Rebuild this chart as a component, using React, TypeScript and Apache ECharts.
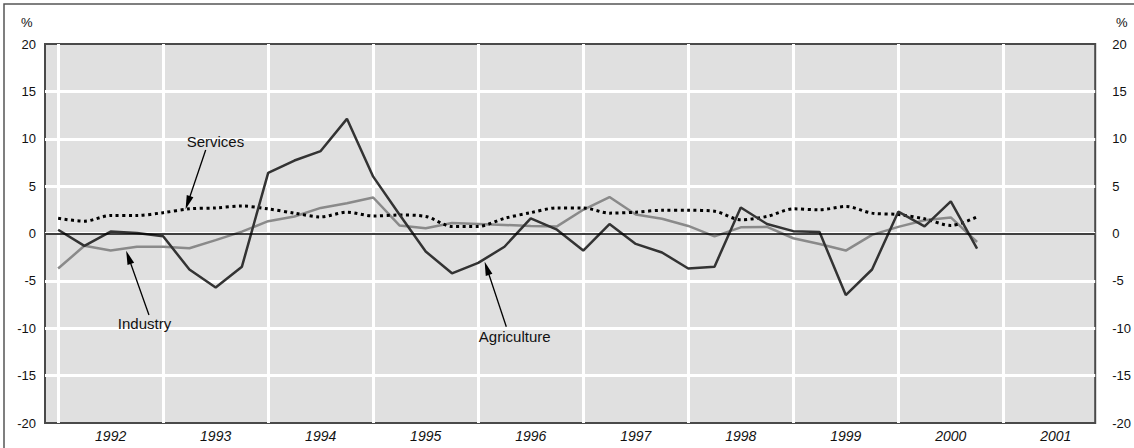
import React, { useEffect, useRef } from 'react';
import * as echarts from 'echarts';

const years = ['1992', '1993', '1994', '1995', '1996', '1997', '1998', '1999', '2000', '2001'];

const agriculture = [
  0.4, -1.3, 0.2, 0.05, -0.3, -3.8, -5.7, -3.5, 6.4, 7.7, 8.7, 12.1,
  6.0, 2.0, -1.9, -4.2, -3.1, -1.4, 1.6, 0.4, -1.8, 1.0, -1.1, -2.0,
  -3.7, -3.5, 2.75, 1.0, 0.25, 0.15, -6.5, -3.8, 2.3, 0.75, 3.4, -1.6,
];

const industry = [
  -3.7, -1.3, -1.8, -1.4, -1.4, -1.55, -0.7, 0.2, 1.3, 1.8, 2.7, 3.2,
  3.8, 0.85, 0.55, 1.1, 1.0, 0.9, 0.8, 0.75, 2.5, 3.85, 2.0, 1.55,
  0.8, -0.3, 0.65, 0.7, -0.5, -1.1, -1.8, -0.15, 0.7, 1.4, 1.7, -0.9,
];

const services = [
  1.6, 1.3, 1.9, 1.9, 2.2, 2.6, 2.7, 2.9, 2.6, 2.15, 1.75, 2.25,
  1.85, 1.95, 1.8, 0.75, 0.75, 1.6, 2.2, 2.7, 2.7, 2.15, 2.25, 2.45,
  2.45, 2.35, 1.45, 1.8, 2.6, 2.5, 2.85, 2.15, 2.0, 1.55, 0.85, 1.75,
];

// annotation labels and arrows (data coordinates: quarter index, %)
const labelNames = ['Services', 'Industry', 'Agriculture'];
const labelCoords = [[5.99, 9.66], [3.29, -9.55], [17.39, -10.92]];
const arrowStarts = [[5.62, 8.81], [3.46, -8.6], [17.07, -9.84]];
const arrowEnds = [[4.94, 3.25], [2.68, -2.51], [16.33, -3.67]];

const FONT = '"Liberation Sans", Arial, Helvetica, sans-serif';

const toPairs = (arr: number[]) => arr.map((v, i) => [i, v]);

export default function App() {
  const ref = useRef<HTMLDivElement>(null);

  useEffect(() => {
    const chart = echarts.init(ref.current!, null, { renderer: 'svg' });
    const gridX = years.map((_, i) => i * 4).filter((v) => v <= 36);
    const labelX = years.map((_, i) => i * 4 + 2);

    const option: any = {
      animation: false,
      backgroundColor: '#ffffff',
      textStyle: { fontFamily: FONT },
      grid: {
        left: 45,
        right: 38,
        top: 44,
        bottom: 25,
        show: true,
        backgroundColor: '#e0e0e0',
        borderColor: '#4a4a4a',
        borderWidth: 2,
      },
      xAxis: {
        type: 'value',
        min: -0.5,
        max: 39.5,
        axisLine: { show: false },
        axisTick: { show: false, customValues: gridX },
        splitLine: { show: true, lineStyle: { color: '#ffffff', width: 3 } },
        axisLabel: {
          customValues: labelX,
          formatter: (v: number) => years[Math.round((v - 2) / 4)] ?? '',
          fontStyle: 'italic',
          fontSize: 14,
          color: '#111',
          margin: 6,
          fontFamily: FONT,
        },
      },
      yAxis: [
        {
          type: 'value',
          min: -20,
          max: 20,
          interval: 5,
          position: 'left',
          axisLine: { show: false },
          axisTick: { show: false },
          axisLabel: { fontSize: 13, color: '#111', margin: 9, fontFamily: FONT },
          splitLine: {
            show: true,
            showMinLine: false,
            showMaxLine: false,
            lineStyle: { color: '#ffffff', width: 3 },
          },
        },
        {
          type: 'value',
          min: -20,
          max: 20,
          interval: 5,
          position: 'right',
          axisLine: { show: false },
          axisTick: { show: false },
          axisLabel: { fontSize: 13, color: '#111', margin: 17, fontFamily: FONT },
          splitLine: { show: false },
        },
      ],
      graphic: [
        {
          type: 'rect',
          shape: { x: 4, y: 4, width: 1160, height: 480 },
          style: { fill: 'none', stroke: '#555555', lineWidth: 1.5 },
          silent: true,
        },
        {
          type: 'text',
          left: 21,
          top: 16,
          style: { text: '%', fontSize: 13, fill: '#111', fontFamily: FONT },
        },
        {
          type: 'text',
          left: 1116,
          top: 16,
          style: { text: '%', fontSize: 13, fill: '#111', fontFamily: FONT },
        },
      ],
      series: [
        {
          name: 'zero',
          type: 'line',
          data: [],
          silent: true,
          markLine: {
            silent: true,
            symbol: ['none', 'none'],
            label: { show: false },
            lineStyle: { color: '#000000', width: 1.5, type: 'solid' },
            data: [{ yAxis: 0 }],
          },
        },
        {
          name: 'Industry',
          type: 'line',
          data: toPairs(industry),
          showSymbol: false,
          lineStyle: { color: '#8a8a8a', width: 2.5 },
          itemStyle: { color: '#8a8a8a' },
        },
        {
          name: 'Services',
          type: 'line',
          data: toPairs(services),
          showSymbol: false,
          smooth: 0.3,
          lineStyle: { color: '#000000', width: 3, type: [3, 3.5] },
          itemStyle: { color: '#000000' },
        },
        {
          name: 'Agriculture',
          type: 'line',
          data: toPairs(agriculture),
          showSymbol: false,
          lineStyle: { color: '#333333', width: 2.5 },
          itemStyle: { color: '#333333' },
          markLine: {
            silent: true,
            symbol: ['none', 'triangle'],
            symbolSize: [7, 14],
            label: { show: false },
            lineStyle: { color: '#000000', width: 1.3, type: 'solid' },
            itemStyle: { color: '#000000' },
            data: arrowStarts.map((s, i) => [{ coord: s }, { coord: arrowEnds[i] }]),
          },
          markPoint: {
            silent: true,
            symbol: 'circle',
            symbolSize: 1,
            itemStyle: { color: 'rgba(0,0,0,0)' },
            label: {
              show: true,
              position: 'inside',
              color: '#111',
              fontSize: 15,
              fontFamily: FONT,
              formatter: (p: any) => p.name,
            },
            data: labelNames.map((n, i) => ({ name: n, coord: labelCoords[i] })),
          },
        },
      ],
    };

    chart.setOption(option);
    return () => chart.dispose();
  }, []);

  return (
    <div
      ref={ref}
      style={{ position: 'fixed', left: 0, top: 0, width: 1134, height: 448, background: '#fff' }}
    />
  );
}
